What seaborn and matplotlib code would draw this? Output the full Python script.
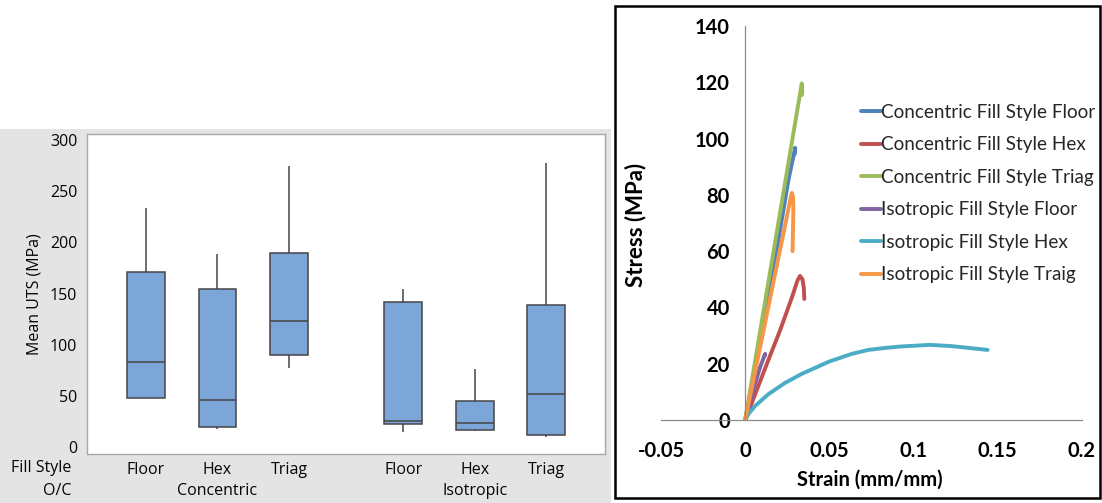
import numpy as np
import pandas as pd
import matplotlib
matplotlib.use("Agg")
import matplotlib.pyplot as plt
from matplotlib.patches import Rectangle
import seaborn as sns

# ---------------- data: left panel (box plot five-number summaries) ----------------
orientations = ["Concentric", "Concentric", "Concentric", "Isotropic", "Isotropic", "Isotropic"]
fill_styles = ["Floor", "Hex", "Triag", "Floor", "Hex", "Triag"]
uts_low = [48.2, 17.3, 76.9, 15.0, 15.6, 9.5]
uts_q1 = [48.2, 19.8, 89.9, 22.8, 16.3, 11.7]
uts_median = [82.8, 45.6, 123.5, 25.4, 23.2, 51.8]
uts_q3 = [171.4, 154.2, 189.3, 141.4, 44.7, 138.5]
uts_high = [233.3, 188.4, 275.0, 154.2, 76.0, 277.3]
uts_ticks = [0, 50, 100, 150, 200, 250, 300]

# ---------------- data: right panel (stress-strain curves) ----------------
series_names = ["Concentric Fill Style Floor", "Concentric Fill Style Hex",
                "Concentric Fill Style Triag", "Isotropic Fill Style Floor",
                "Isotropic Fill Style Hex", "Isotropic Fill Style Traig"]
cf_strain = [0, 0.010, 0.020, 0.0257, 0.0297, 0.0294]
cf_stress = [0, 32.5, 65.0, 85.4, 96.7, 94.5]
ch_strain = [0, 0.0129, 0.0208, 0.028, 0.031, 0.0325, 0.034, 0.0348, 0.0351]
ch_stress = [0, 20.0, 32.0, 44.0, 49.5, 51.2, 50.0, 47.0, 43.0]
ct_strain = [0, 0.017, 0.0336, 0.0339, 0.0337]
ct_stress = [0, 60.5, 119.6, 117.0, 115.5]
if_strain = [0, 0.0059, 0.0089, 0.0109, 0.0119, 0.0115]
if_stress = [0, 13.0, 18.9, 22.0, 23.5, 22.8]
ih_strain = [0, 0.002, 0.0059, 0.0138, 0.0237, 0.0336, 0.050, 0.0633, 0.0731,
             0.083, 0.092, 0.1008, 0.1097, 0.1216, 0.1315, 0.144]
ih_stress = [0, 2.2, 5.0, 9.2, 13.2, 16.4, 20.8, 23.5, 24.9,
             25.6, 26.1, 26.4, 26.7, 26.3, 25.7, 24.9]
it_strain = [0, 0.025, 0.0268, 0.0277, 0.0284, 0.0286, 0.0284, 0.0281]
it_stress = [0, 73.0, 78.5, 80.7, 79.5, 75.0, 68.0, 60.0]
strain_ticks = [-0.05, 0, 0.05, 0.1, 0.15, 0.2]
strain_tick_labels = ["-0.05", "0", "0.05", "0.1", "0.15", "0.2"]
stress_ticks = [0, 20, 40, 60, 80, 100, 120, 140]

# ---------------- style ----------------
sns.set_theme(style="white")
plt.rcParams["font.family"] = ["Open Sans", "DejaVu Sans"]

W, H = 1102, 503
fig = plt.figure(figsize=(W / 100, H / 100), dpi=100)
fig.patch.set_facecolor("white")

def fx(px):
    return px / W

def fy(py):
    return 1 - py / H

# grey Minitab panel background
fig.patches.append(Rectangle((0, 0), fx(611), fy(129), transform=fig.transFigure,
                             facecolor="#E4E4E4", edgecolor="none", zorder=-10))
# black frame around Excel chart
fig.patches.append(Rectangle((fx(615), fy(498)), fx(1100) - fx(615), fy(6) - fy(498),
                             transform=fig.transFigure, facecolor="none",
                             edgecolor="black", lw=1.8, zorder=5))

# ---------------- left panel ----------------
txt = "#050505"
axL = fig.add_axes([fx(87), fy(454), fx(605) - fx(87), fy(134) - fy(454)])
axL.set_facecolor("white")
group_gap = 0.6
rows = []
for i in range(6):
    pos = i + (i // 3) * group_gap
    for v in (uts_low[i], uts_q1[i], uts_median[i], uts_q3[i], uts_high[i]):
        rows.append({"pos": pos, "uts": v})
dfL = pd.DataFrame(rows)
sns.boxplot(data=dfL, x="pos", y="uts", native_scale=True, whis=(0, 100),
            width=0.53, color="#7DA6D8", saturation=1, linecolor="#454545",
            linewidth=1.1, showcaps=False, showfliers=False, ax=axL)
positions = [i + (i // 3) * group_gap for i in range(6)]
axL.set_xlim(-0.825, 6.42)
axL.set_ylim(-6.8, 306)
axL.set_xticks(positions)
axL.set_xticklabels(fill_styles, fontsize=11.5, color=txt)
axL.set_yticks(uts_ticks)
axL.set_yticklabels([str(t) for t in uts_ticks], fontsize=11.5, color=txt)
axL.set_xlabel("")
axL.set_ylabel("Mean UTS (MPa)", fontsize=11.5, color=txt, labelpad=5)
axL.tick_params(axis="both", which="major", direction="out", length=4, width=0.8,
                color="#A0A0A0", pad=3)
axL.tick_params(axis="x", pad=2)
for s in axL.spines.values():
    s.set_color("#A8A8A8")
    s.set_linewidth(1.0)
# group labels
for gi, gname in enumerate(["Concentric", "Isotropic"]):
    xc = positions[gi * 3 + 1]
    axL.text(xc, -0.115, gname, transform=axL.get_xaxis_transform(), ha="center",
             va="center", fontsize=11.5, color=txt)
fig.text(fx(71), fy(468), "Fill Style", ha="right", va="center", fontsize=11.5, color=txt)
fig.text(fx(71), fy(491), "O/C", ha="right", va="center", fontsize=11.5, color=txt)

# ---------------- right panel ----------------
axR = fig.add_axes([fx(661), fy(420), fx(1082) - fx(661), fy(26) - fy(420)])
axR.set_facecolor("none")
curves = [(cf_strain, cf_stress), (ch_strain, ch_stress), (ct_strain, ct_stress),
          (if_strain, if_stress), (ih_strain, ih_stress), (it_strain, it_stress)]
rowsR = []
for name, (xs, ys) in zip(series_names, curves):
    for k, (a, b) in enumerate(zip(xs, ys)):
        rowsR.append({"series": name, "strain": a, "stress": b, "k": k})
dfR = pd.DataFrame(rowsR)
excel_colors = ["#4F81BD", "#C0504D", "#9BBB59", "#8064A2", "#4BACC6", "#F79646"]
sns.lineplot(data=dfR, x="strain", y="stress", hue="series", hue_order=series_names,
             palette=excel_colors, sort=False, estimator=None, linewidth=2.8,
             ax=axR, legend=True)
axR.set_xlim(-0.05, 0.2)
axR.set_ylim(0, 140)
axR.spines["left"].set_position(("data", 0))
axR.spines["bottom"].set_position(("data", 0))
axR.spines["top"].set_visible(False)
axR.spines["right"].set_visible(False)
for s in ("left", "bottom"):
    axR.spines[s].set_color("#8C8C8C")
    axR.spines[s].set_linewidth(0.9)
axR.set_xticks(strain_ticks)
axR.set_xticklabels(strain_tick_labels)
axR.set_yticks(stress_ticks)
axR.set_yticklabels([str(t) for t in stress_ticks])
axR.tick_params(axis="both", direction="out", length=5, width=0.9, color="#8C8C8C",
                labelsize=14.5, pad=6)
axR.tick_params(axis="x", pad=10)
for lab in axR.get_xticklabels() + axR.get_yticklabels():
    lab.set_fontfamily(["Lato", "DejaVu Sans"])
    lab.set_fontweight("bold")
    lab.set_color("black")
axR.set_xlabel("")
axR.set_ylabel("")
fig.text(fx(636), fy(225), "Stress (MPa)", rotation=90, ha="center", va="center",
         fontsize=16, fontweight="bold", family=["Lato", "DejaVu Sans"], color="black")
fig.text(fx(870), fy(480), "Strain (mm/mm)", ha="center", va="center",
         fontsize=14.5, fontweight="bold", family=["Lato", "DejaVu Sans"], color="black")
handles, labels = axR.get_legend_handles_labels()
leg = axR.legend(handles, labels, loc="upper left", bbox_to_anchor=(fx(861), fy(104)),
                 bbox_transform=fig.transFigure, frameon=False, handlelength=1.05,
                 handletextpad=0.02, labelspacing=0.82, borderaxespad=0, borderpad=0,
                 prop={"family": ["Lato", "DejaVu Sans"], "size": 13.6})
for h in leg.legend_handles:
    h.set_linewidth(2.8)

fig.savefig("out.png", dpi=100)
